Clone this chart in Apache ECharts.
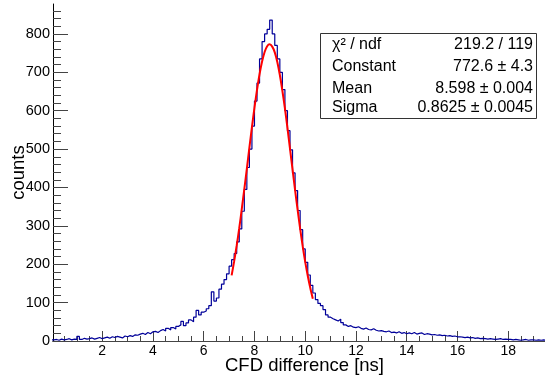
<!DOCTYPE html>
<html>
<head>
<meta charset="utf-8">
<script src="https://cdn.jsdelivr.net/npm/echarts@6/dist/echarts.min.js"></script>
<style>
html,body{margin:0;padding:0;background:#fff;}
#c{width:545px;height:378px;}
</style>
</head>
<body>
<div id="c"></div>
<script>
// Histogram: bins of 0.1 ns starting at 0
const binStart = 0;
const binWidth = 0.1;
const counts = [
  3,4,2,5,3,4,6,3,5,4,
  12,4,7,5,6,8,5,7,9,6,
  8,10,7,11,9,12,10,8,13,11,
  14,12,16,15,18,20,17,22,19,24,
  25,22,27,30,26,33,29,35,31,38,
  42,51,40,47,55,50,62,80,68,75,
  78,84,92,128,104,112,135,148,160,175,
  195,212,228,258,292,338,395,452,500,560,
  625,672,735,780,800,812,836,800,770,735,
  700,655,600,548,498,438,392,340,290,240,
  205,172,145,125,108,98,92,82,68,62,
  58,55,52,57,48,42,38,40,36,35,
  37,33,31,34,30,29,32,28,26,27,
  25,24,26,22,23,21,24,20,22,19,
  21,19,22,18,20,21,17,19,18,16,
  17,15,16,14,15,13,14,12,13,11,
  11,10,9,10,8,9,7,8,6,7,
  6,5,6,5,4,5,6,4,5,4,
  4,3,4,3,2,3,4,2,3,3,
  2,3,2,3,2
];
// Gaussian fit curve sample points
const fitX = [7.1,7.2,7.3,7.4,7.5,7.6,7.7,7.8,7.9,8.0,8.1,8.2,8.3,8.4,8.5,8.6,8.7,8.8,8.9,9.0,9.1,9.2,9.3,9.4,9.5,9.6,9.7,9.8,9.9,10.0,10.1,10.2,10.3];
const fitY = [171,208,249,294,344,396,449,504,557,608,654,695,728,753,768,773,767,752,727,693,652,606,555,501,447,394,342,293,247,206,170,138,110];
// Axis ticks
const xMajorTicks = [2,4,6,8,10,12,14,16,18];
const xMinorTicks = [0.5,1,1.5,2.5,3,3.5,4.5,5,5.5,6.5,7,7.5,8.5,9,9.5,10.5,11,11.5,12.5,13,13.5,14.5,15,15.5,16.5,17,17.5,18.5,19];
const yMinorTicks = [20,40,60,80,120,140,160,180,220,240,260,280,320,340,360,380,420,440,460,480,520,540,560,580,620,640,660,680,720,740,760,780,820,840,860];
// Stats box
const statNames = ['χ² / ndf','Constant','Mean','Sigma'];
const statValues = ['219.2 / 119','772.6 ± 4.3','8.598 ± 0.004','0.8625 ± 0.0045'];

const X_MIN = 0.06, X_MAX = 19.45, Y_MAX = 878;

const histData = counts.map((v,i)=>[binStart + i*binWidth, v]);
histData.push([binStart + counts.length*binWidth, counts[counts.length-1]]);
const fitData = fitX.map((x,i)=>[x, fitY[i]]);

const font = 'Liberation Sans, Arial, Helvetica, sans-serif';
const chart = echarts.init(document.getElementById('c'), null, {renderer:'canvas'});

const rowY = [45,67,88.5,108];
const graphics = [{
  type:'rect', shape:{x:320.5,y:33.5,width:216,height:85},
  style:{fill:'#fff',stroke:'#333',lineWidth:1}, z:100
}];
statNames.forEach((n,i)=>{
  graphics.push({type:'text', x:332, y:rowY[i], z:101,
    style:{text:n, font:'16px '+font, fill:'#000', textAlign:'left', textVerticalAlign:'middle'}});
  graphics.push({type:'text', x:533, y:rowY[i], z:101,
    style:{text:statValues[i], font:'16px '+font, fill:'#000', textAlign:'right', textVerticalAlign:'middle'}});
});

chart.setOption({
  animation:false,
  backgroundColor:'#fff',
  grid:{left:53, right:0, top:4, bottom:37, containLabel:false, outerBoundsMode:'none'},
  xAxis:[{
    type:'value', position:'bottom', min:X_MIN, max:X_MAX,
    name:'CFD difference [ns]', nameLocation:'middle', nameGap:15, nameMoveOverlap:false,
    nameTextStyle:{fontFamily:font, fontSize:18.5, color:'#000', padding:[0,0,0,11]},
    axisLine:{show:true, onZero:false, lineStyle:{color:'#000', width:1}},
    axisTick:{show:true, inside:true, length:10, customValues:xMajorTicks, lineStyle:{color:'#444'}},
    axisLabel:{show:true, customValues:xMajorTicks, fontFamily:font, fontSize:14, color:'#000', margin:3},
    splitLine:{show:false}
  },{
    type:'value', position:'bottom', min:X_MIN, max:X_MAX,
    axisLine:{show:false},
    axisTick:{show:true, inside:true, length:5, customValues:xMinorTicks, lineStyle:{color:'#444'}},
    axisLabel:{show:false},
    splitLine:{show:false}
  },{
    type:'value', position:'top', min:X_MIN, max:X_MAX,
    axisLine:{show:true, lineStyle:{color:'#444', width:1}},
    axisTick:{show:false}, axisLabel:{show:false}, splitLine:{show:false}
  }],
  yAxis:[{
    type:'value', position:'left', min:0, max:Y_MAX, interval:100,
    name:'counts', nameLocation:'middle', nameGap:25, nameMoveOverlap:false,
    nameTextStyle:{fontFamily:font, fontSize:18.5, color:'#000'},
    axisLine:{show:true, onZero:false, lineStyle:{color:'#000', width:1}},
    axisTick:{show:true, inside:true, length:15, lineStyle:{color:'#444'}},
    axisLabel:{show:true, fontFamily:font, fontSize:14.5, color:'#000', margin:3,
      showMaxLabel:false},
    splitLine:{show:false}
  },{
    type:'value', position:'left', min:0, max:Y_MAX,
    axisLine:{show:false},
    axisTick:{show:true, inside:true, length:8, customValues:yMinorTicks, lineStyle:{color:'#444'}},
    axisLabel:{show:false},
    splitLine:{show:false}
  }],
  series:[{
    type:'line', name:'hist', xAxisIndex:0, yAxisIndex:0,
    data:histData, step:'end', showSymbol:false, symbol:'none',
    lineStyle:{color:'#000099', width:1.2}, clip:true, z:2
  },{
    type:'line', name:'fit', xAxisIndex:0, yAxisIndex:0,
    data:fitData, smooth:0.3, showSymbol:false, symbol:'none',
    lineStyle:{color:'#ff0000', width:2}, z:3
  }],
  graphic:graphics
});
</script>
</body>
</html>
